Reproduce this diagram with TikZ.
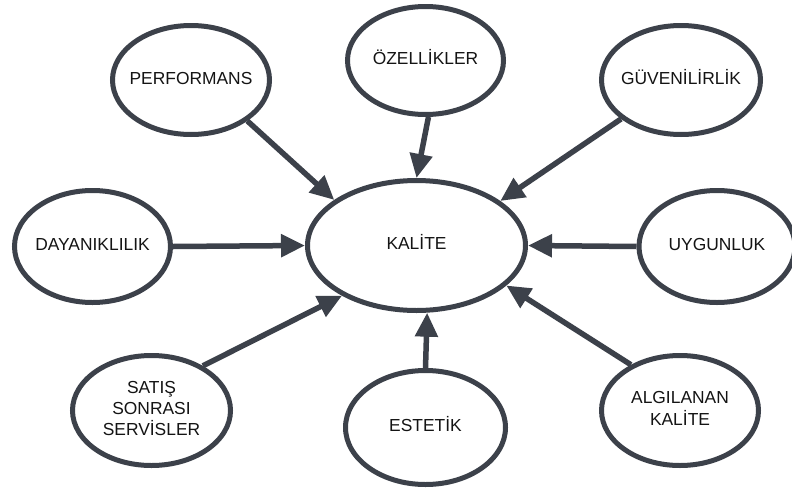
\documentclass[tikz,border=0pt]{standalone}
\usepackage{fontspec}
\setmainfont{Liberation Sans}
\usetikzlibrary{shapes.geometric,arrows.meta}
\definecolor{slate}{RGB}{60,65,74}
\definecolor{ink}{RGB}{20,20,20}
% keep the label from widening the ellipse
\newcommand{\ovaltext}[1]{\makebox[0pt]{\begin{tabular}{@{}c@{}}#1\end{tabular}}}
\begin{document}
\begin{tikzpicture}[x=1pt,y=-1pt,
  oval/.style={ellipse, draw=slate, line width=5pt, fill=white, inner sep=0pt,
    text=ink, font=\fontsize{17.4}{20.5}\selectfont},
  feed/.style={draw=slate, line width=5.5pt,
    -{Triangle[length=24pt,width=22pt]}}]
  \useasboundingbox[fill=white] (0,0) rectangle (792,490);

  \node[oval, minimum width=218pt, minimum height=130pt] (kal) at (416.5,245.5) {\ovaltext{KALİTE}};

  \node[oval, minimum width=157pt, minimum height=109pt] (perf) at (191,80) {\ovaltext{PERFORMANS}};
  \node[oval, minimum width=156pt, minimum height=108pt] (ozel) at (425.5,60.5) {\ovaltext{ÖZELLİKLER}};
  \node[oval, minimum width=159pt, minimum height=109pt] (guv)  at (681,80) {\ovaltext{GÜVENİLİRLİK}};
  \node[oval, minimum width=156pt, minimum height=112pt] (day)  at (92.5,246.5) {\ovaltext{DAYANIKLILIK}};
  \node[oval, minimum width=156pt, minimum height=112pt] (uyg)  at (717,246.5) {\ovaltext{UYGUNLUK}};
  \node[oval, minimum width=158pt, minimum height=110pt] (sat)  at (151.5,410.5) {\ovaltext{SATIŞ\\SONRASI\\SERVİSLER}};
  \node[oval, minimum width=160pt, minimum height=114pt] (est)  at (425.5,427.5) {\ovaltext{ESTETİK}};
  \node[oval, minimum width=157pt, minimum height=110pt] (alg)  at (680,410.5) {\ovaltext{ALGILANAN\\KALİTE}};

  \draw[feed] (perf.-36)   -- (kal.151.4);
  \draw[feed] (ozel.-87.6) -- (kal.90);
  \draw[feed] (guv.213.7)  -- (kal.28.9);
  \draw[feed] (day.0)      -- (kal.180);
  \draw[feed] (uyg.180)    -- (kal.0);
  \draw[feed] (sat.41.5)   -- (kal.-146.1);
  \draw[feed] (est.90)     -- (kal.-81.9);
  \draw[feed] (alg.137.7)  -- (kal.-24.9);
\end{tikzpicture}
\end{document}
